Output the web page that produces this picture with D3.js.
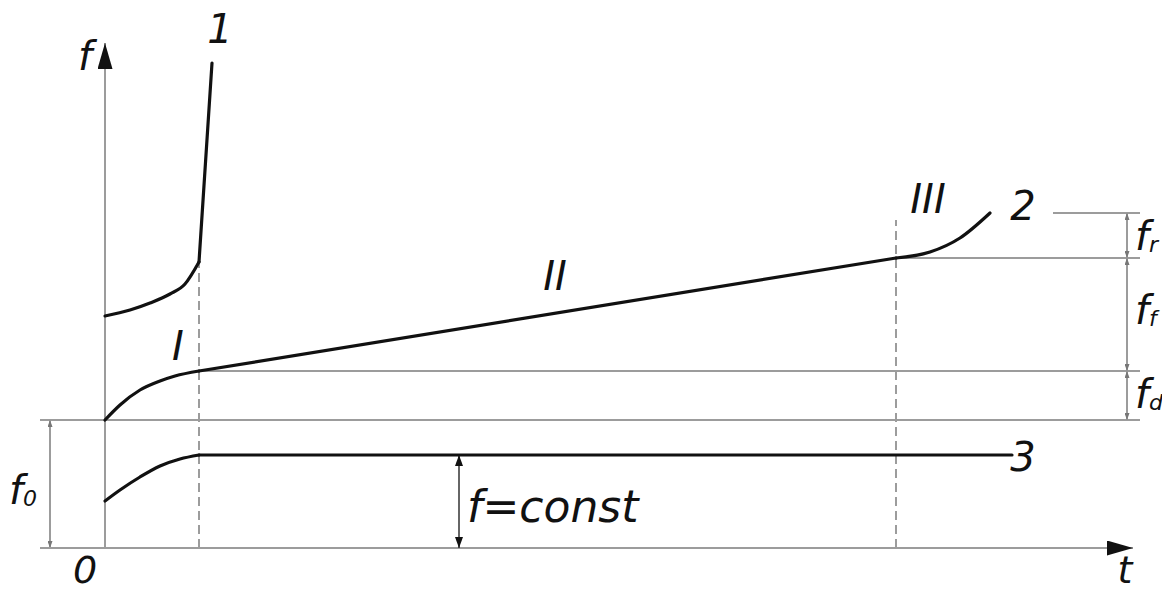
<!DOCTYPE html>
<html>
<head>
<meta charset="utf-8">
<script src="https://cdn.jsdelivr.net/npm/d3@7"></script>
<style>
  body { margin: 0; background: #fff; }
  text { font-family: "DejaVu Sans", sans-serif; font-style: italic; fill: #111; }
</style>
</head>
<body>
<svg id="chart" width="1162" height="594"></svg>
<script>
// data in chart units (t along the axis, f up the axis)
var tKnee = 9.4;       // end of stage I
var tIII = 79.1;       // start of stage III
var f0 = 12.8;
var fD = 17.7;
var fF = 29.0;
var fR = 33.5;

// curve 1: smooth start, then steep rise
var curve1Smooth = [[0, 23.2], [2.5, 23.8], [4.5, 24.5], [6.5, 25.4], [8, 26.4], [9.4, 28.6]];
var curve1Steep = [[9.4, 28.6], [10.7, 48.5]];

// curve 2: stage I, II (straight), III
var curve2StageI = [[0, 12.8], [1.5, 14.3], [3.5, 15.8], [5.5, 16.7], [7, 17.2], [9.4, 17.7]];
var curve2StageII = [[9.4, 17.7], [79.1, 29.0]];
var curve2StageIII = [[79.1, 29.0], [82.5, 29.6], [85.5, 31.0], [88.5, 33.5]];

// curve 3: rise then constant
var curve3Rise = [[0, 4.7], [1.5, 5.8], [3.5, 7.1], [5.5, 8.2], [7.5, 8.9], [9.4, 9.3]];
var curve3Flat = [[9.4, 9.3], [90.7, 9.3]];

var svg = d3.select("#chart");
var x = d3.scaleLinear().domain([0, 103]).range([105, 1135]);
var y = d3.scaleLinear().domain([0, 51]).range([548, 38]);

var gray = "#9c9c9c";

var defs = svg.append("defs");
function marker(id, w, h, color) {
    defs.append("marker")
        .attr("id", id)
        .attr("viewBox", "0 0 " + w + " " + h)
        .attr("refX", w).attr("refY", h / 2)
        .attr("markerWidth", w).attr("markerHeight", h)
        .attr("markerUnits", "userSpaceOnUse")
        .attr("orient", "auto-start-reverse")
        .append("path")
        .attr("d", "M0,0 L" + w + "," + (h / 2) + " L0," + h + " Z")
        .attr("fill", color);
}
marker("bigArrow", 26, 15, "#111");
marker("dimArrow", 11, 8, "#111");
marker("tinyArrow", 7, 5, "#777");

function hline(f, t1, t2) {
    return svg.append("line")
        .attr("x1", x(t1)).attr("x2", x(t2))
        .attr("y1", y(f)).attr("y2", y(f))
        .attr("stroke", gray).attr("stroke-width", 2);
}
function vline(t, fa, fb) {
    return svg.append("line")
        .attr("x1", x(t)).attr("x2", x(t))
        .attr("y1", y(fa)).attr("y2", y(fb))
        .attr("stroke", gray).attr("stroke-width", 2);
}

// reference levels
hline(f0, -6.5, 103.5);
hline(fD, tKnee, 103.5);
hline(fF, tIII, 103.5);
hline(fR, 94.8, 103.5);

// dashed stage boundaries
vline(tKnee, 0, 28.6).attr("stroke-dasharray", "9,5");
vline(tIII, 0, 32.8).attr("stroke-dasharray", "9,5");

// dimension lines on the right
var dimLevels = [[f0, fD], [fD, fF], [fF, fR]];
dimLevels.forEach(function (d) {
    vline(102.2, d[0], d[1])
        .attr("marker-start", "url(#tinyArrow)")
        .attr("marker-end", "url(#tinyArrow)");
});
// f0 dimension on the left
vline(-5.5, 0, f0)
    .attr("marker-start", "url(#tinyArrow)")
    .attr("marker-end", "url(#tinyArrow)");

// axes
hline(0, -6.5, 102.8).attr("marker-end", "url(#bigArrow)");
vline(0, 0, 50.5).attr("marker-end", "url(#bigArrow)");

// f = const dimension
svg.append("line")
    .attr("x1", x(35.4)).attr("x2", x(35.4))
    .attr("y1", y(9.3)).attr("y2", y(0))
    .attr("stroke", "#333").attr("stroke-width", 1.5)
    .attr("marker-start", "url(#dimArrow)")
    .attr("marker-end", "url(#dimArrow)");

// curves
var smooth = d3.line().x(function (d) { return x(d[0]); }).y(function (d) { return y(d[1]); })
    .curve(d3.curveMonotoneX);
var straight = d3.line().x(function (d) { return x(d[0]); }).y(function (d) { return y(d[1]); });

[curve1Smooth, curve2StageI, curve2StageIII, curve3Rise].forEach(function (pts) {
    svg.append("path").attr("d", smooth(pts))
        .attr("fill", "none").attr("stroke", "#111").attr("stroke-width", 3.2)
        .attr("stroke-linecap", "round");
});
[curve1Steep, curve2StageII, curve3Flat].forEach(function (pts) {
    svg.append("path").attr("d", straight(pts))
        .attr("fill", "none").attr("stroke", "#111").attr("stroke-width", 3.2)
        .attr("stroke-linecap", "round");
});

// labels
function label(txt, t, f, size, anchor) {
    return svg.append("text")
        .attr("x", x(t)).attr("y", y(f))
        .attr("font-size", size)
        .attr("text-anchor", anchor || "middle")
        .text(txt);
}
label("1", 11.5, 50.5, 40);
label("2", 91.8, 32.8, 40);
label("3", 91.8, 7.7, 40);
label("I", 7.3, 18.8, 40);
label("II", 45, 25.8, 40);
label("III", 82.3, 33.5, 40);
label("f", -2.0, 47.8, 40);
label("t", 102.0, -3.5, 38);
label("0", -2.0, -3.5, 38);
label("f=const", 36.2, 2.6, 44, "start");

// subscripted dimension labels
function subLabel(main, sub, t, f) {
    var tx = svg.append("text").attr("x", x(t)).attr("y", y(f)).attr("font-size", 40);
    tx.append("tspan").text(main);
    tx.append("tspan").attr("font-size", 22).attr("dy", 2).text(sub);
}
subLabel("f", "0", -9.6, 4.4);
subLabel("f", "r", 103.0, 29.8);
subLabel("f", "f", 103.0, 22.4);
subLabel("f", "d", 103.0, 14.0);
</script>
</body>
</html>
